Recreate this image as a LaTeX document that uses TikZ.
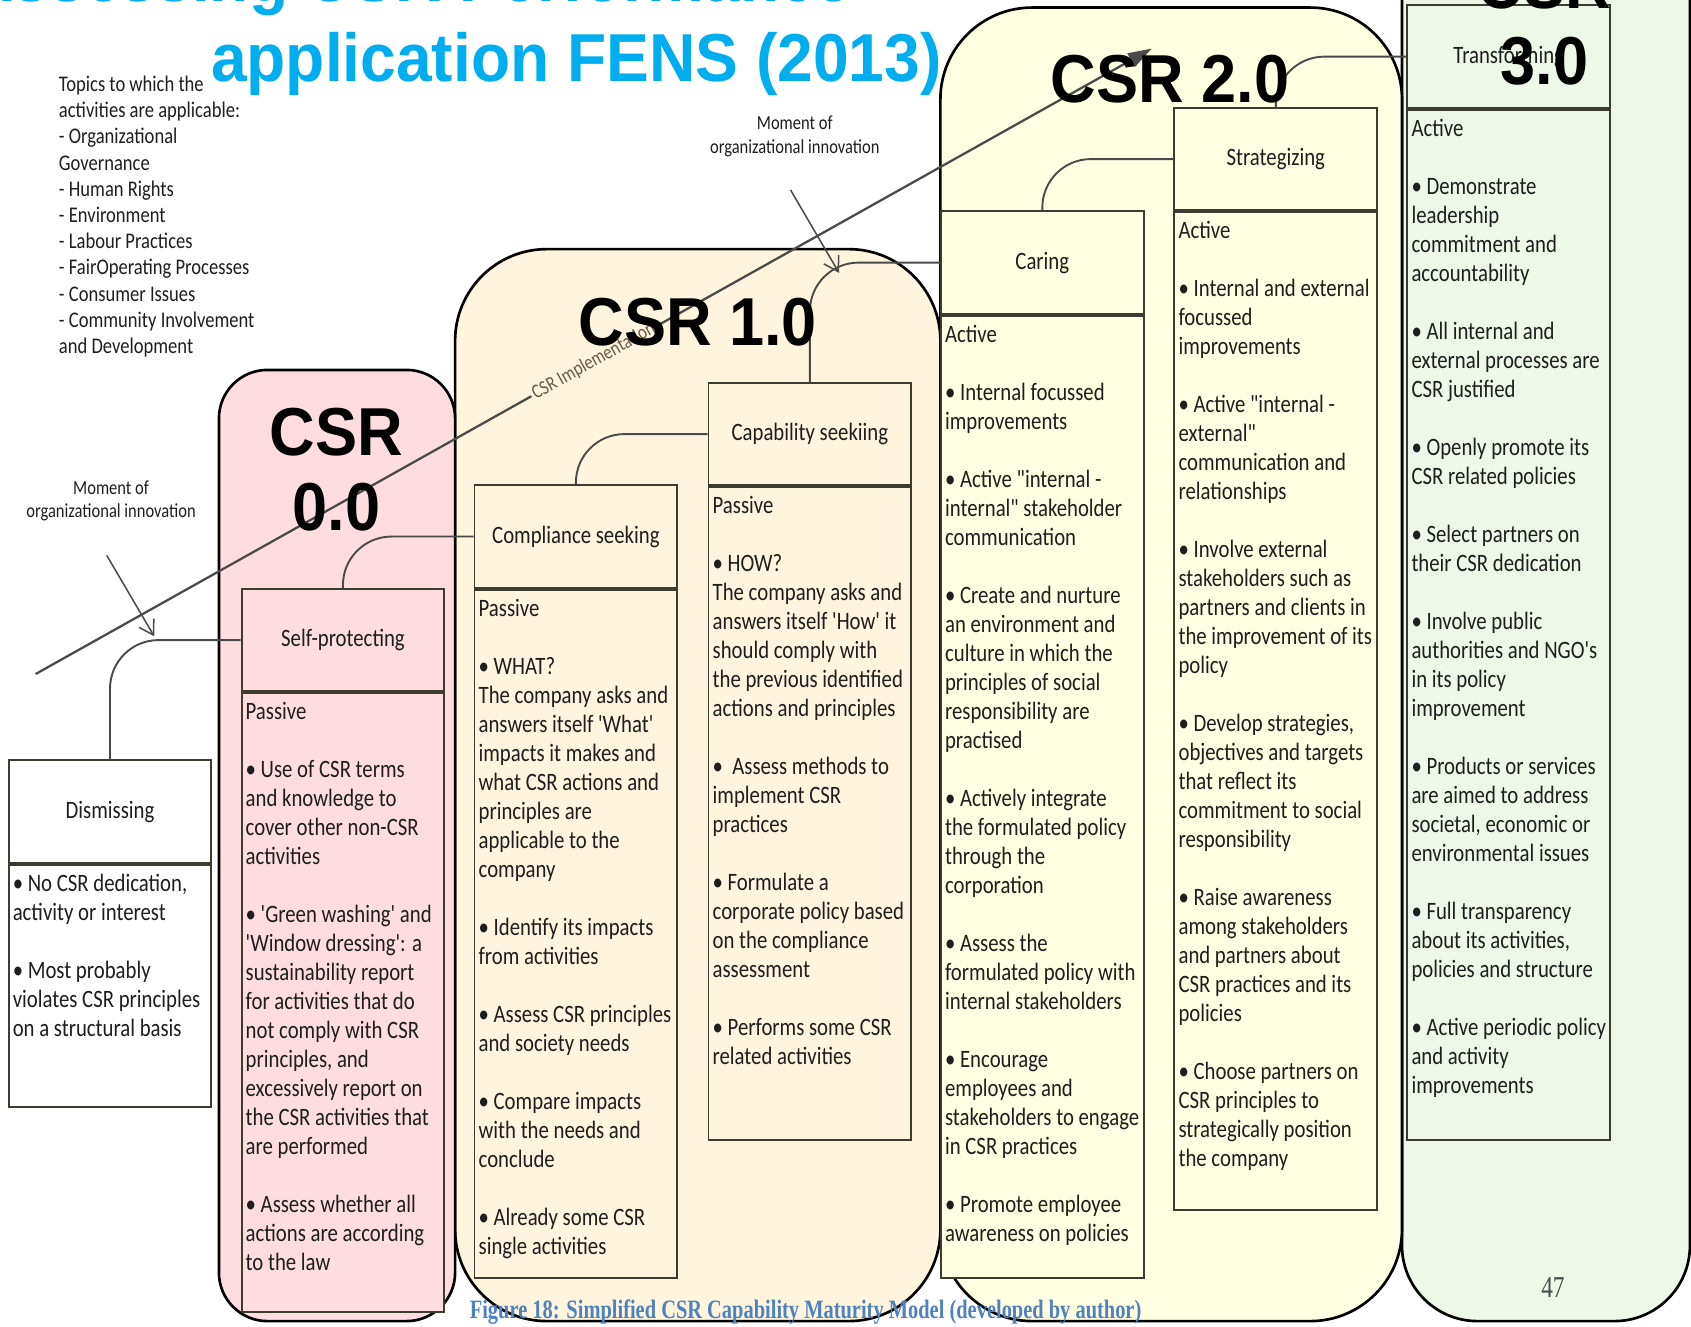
\documentclass[tikz,border=0pt]{standalone}
\usepackage{fontspec}
\setmainfont{Carlito}
\newfontfamily\boxfont[FakeStretch=0.83,Ligatures=TeXOff]{Carlito}
\newfontfamily\bigfont[FakeStretch=0.93]{Liberation Sans}
\newfontfamily\titfont[FakeStretch=0.945]{Liberation Sans}
\newfontfamily\capfont[FakeStretch=0.77]{Liberation Serif}
\usetikzlibrary{arrows.meta,positioning}
\definecolor{rosa}{HTML}{FFDCDF}
\definecolor{creme}{HTML}{FFF5DE}
\definecolor{gelb}{HTML}{FFFFE1}
\definecolor{gruen}{HTML}{EEF8E8}
\definecolor{titel}{HTML}{00AEEF}
\definecolor{capblau}{HTML}{4F81BD}
\definecolor{rahmen}{HTML}{3C3C30}
\definecolor{grau}{HTML}{4A4A4A}
\definecolor{schrift}{HTML}{1E1E1E}
\definecolor{braun}{HTML}{6B5A45}
\newcommand{\lz}{\\[7.65pt]}
\tikzset{
  stufe/.style={draw=black,line width=0.7pt},
  kopf/.style={draw=rahmen,line width=0.5pt,minimum width=18.8mm,minimum height=9.5mm,inner sep=0pt,text=schrift,font=\boxfont\fontsize{6.6}{7.65}\selectfont},
  rumpf/.style={draw=rahmen,line width=0.5pt,minimum width=18.8mm,inner sep=0pt},
  txt/.style={anchor=north west,inner sep=0pt,align=left,text=schrift,font=\boxfont\fontsize{6.6}{7.65}\selectfont},
  verb/.style={grau,line width=0.5pt,rounded corners=4.5mm},
  pfeil/.style={-{Straight Barb[length=1.3mm,width=1.6mm]},grau,line width=0.4pt},
  impl/.style={-{Triangle[length=2.2mm,width=1.4mm]},grau,line width=0.6pt},
  gross/.style={font=\bigfont\bfseries\fontsize{17.9}{19.9}\selectfont,inner sep=0pt,align=center},
  titelschrift/.style={font=\titfont\bfseries\fontsize{17.9}{20}\selectfont,text=titel,inner sep=0pt},
  klein/.style={inner sep=0pt,text=schrift,align=center,font=\boxfont\fontsize{5.25}{6.2}\selectfont},
}

\begin{document}
\begin{tikzpicture}[x=0.1mm,y=-0.1mm]
  \useasboundingbox (0,0) rectangle (1568,1230);
  % stages
  \draw[stufe,fill=gruen,rounded corners=7mm] (1300,-150) rectangle (1567,1225);
  \draw[stufe,fill=gelb,rounded corners=8.5mm] (872,7) rectangle (1300,1225);
  \draw[stufe,fill=creme,rounded corners=8.5mm] (422,231) rectangle (872,1225);
  \draw[stufe,fill=rosa,rounded corners=4.5mm] (203,343) rectangle (422,1225);

  \node[font=\capfont\bfseries\fontsize{7}{8}\selectfont,text=capblau,anchor=base,inner sep=0pt] (caption) at (747,1223) {Figure 18: Simplified CSR Capability Maturity Model (developed by author)};
  \node[font=\capfont\fontsize{8}{9}\selectfont,text=schrift!80,inner sep=0pt] (seite) at (1440,1194) {47};

  % topics
  \node[txt,font=\boxfont\fontsize{5.9}{6.92}\selectfont] (themen) at (54,67) {\strut Topics to which the\\
    activities are applicable:\\
    - Organizational\\
    Governance\\
    - Human Rights\\
    - Environment\\
    - Labour Practices\\
    - FairOperating Processes\\
    - Consumer Issues\\
    - Community Involvement\\
    and Development};

  \node[klein] (momentL) at (103,464.5) {Moment of\\organizational innovation};
  \node[klein] (momentR) at (737,126.5) {Moment of\\organizational innovation};
  \coordinate (mL0) at (99,515);
  \coordinate (mL1) at (143,590);
  \coordinate (mR0) at (733,176);
  \coordinate (mR1) at (778,253);
  \draw[pfeil] (mL0) -- (mL1);
  \draw[pfeil] (mR0) -- (mR1);

  % activities
  \node[kopf,fill=white] (dismiss) at (102,752.5) {Dismissing};
  \node[rumpf,fill=white,minimum height=22.5mm,below=0pt of dismiss] (dismissB) {};
  \node[txt] (dismissT) at ([shift={(0.4mm,-0.6mm)}]dismissB.north west) {\strut • No CSR dedication,\\
    activity or interest\lz
    • Most probably\\
    violates CSR principles\\
    on a structural basis};

  \node[kopf,fill=rosa] (selfprot) at (318,593.5) {Self-protecting};
  \node[rumpf,fill=rosa,minimum height=57.4mm,below=0pt of selfprot] (selfprotB) {};
  \node[txt] (selfprotT) at ([shift={(0.4mm,-0.6mm)}]selfprotB.north west) {\strut Passive\lz
    • Use of CSR terms\\
    and knowledge to\\
    cover other non-CSR\\
    activities\lz
    • 'Green washing' and\\
    'Window dressing': a\\
    sustainability report\\
    for activities that do\\
    not comply with CSR\\
    principles, and\\
    excessively report on\\
    the CSR activities that\\
    are performed\lz
    • Assess whether all\\
    actions are according\\
    to the law};

  \node[kopf,fill=creme] (comply) at (534,497.5) {Compliance seeking};
  \node[rumpf,fill=creme,minimum height=63.8mm,below=0pt of comply] (complyB) {};
  \node[txt] (complyT) at ([shift={(0.4mm,-0.6mm)}]complyB.north west) {\strut Passive\lz
    • WHAT?\\
    The company asks and\\
    answers itself 'What'\\
    impacts it makes and\\
    what CSR actions and\\
    principles are\\
    applicable to the\\
    company\lz
    • Identify its impacts\\
    from activities\lz
    • Assess CSR principles\\
    and society needs\lz
    • Compare impacts\\
    with the needs and\\
    conclude\lz
    • Already some CSR\\
    single activities};

  \node[kopf,fill=creme] (capab) at (751,402.5) {Capability seekiing};
  \node[rumpf,fill=creme,minimum height=60.5mm,below=0pt of capab] (capabB) {};
  \node[txt] (capabT) at ([shift={(0.4mm,-0.6mm)}]capabB.north west) {\strut Passive\lz
    • HOW?\\
    The company asks and\\
    answers itself 'How' it\\
    should comply with\\
    the previous identified\\
    actions and principles\lz
    •\ \ Assess methods to\\
    implement CSR\\
    practices\lz
    • Formulate a\\
    corporate policy based\\
    on the compliance\\
    assessment\lz
    • Performs some CSR\\
    related activities};

  \node[kopf,fill=gelb] (caring) at (966.5,243.5) {Caring};
  \node[rumpf,fill=gelb,minimum height=89.2mm,below=0pt of caring] (caringB) {};
  \node[txt] (caringT) at ([shift={(0.4mm,-0.6mm)}]caringB.north west) {\strut Active\lz
    • Internal focussed\\
    improvements\lz
    • Active "internal -\\
    internal" stakeholder\\
    communication\lz
    • Create and nurture\\
    an environment and\\
    culture in which the\\
    principles of social\\
    responsibility are\\
    practised\lz
    • Actively integrate\\
    the formulated policy\\
    through the\\
    corporation\lz
    • Assess the\\
    formulated policy with\\
    internal stakeholders\lz
    • Encourage\\
    employees and\\
    stakeholders to engage\\
    in CSR practices\lz
    • Promote employee\\
    awareness on policies};

  \node[kopf,fill=gelb] (strat) at (1183,147.5) {Strategizing};
  \node[rumpf,fill=gelb,minimum height=92.5mm,below=0pt of strat] (stratB) {};
  \node[txt] (stratT) at ([shift={(0.4mm,-0.6mm)}]stratB.north west) {\strut Active\lz
    • Internal and external\\
    focussed\\
    improvements\lz
    • Active "internal -\\
    external"\\
    communication and\\
    relationships\lz
    • Involve external\\
    stakeholders such as\\
    partners and clients in\\
    the improvement of its\\
    policy\lz
    • Develop strategies,\\
    objectives and targets\\
    that reflect its\\
    commitment to social\\
    responsibility\lz
    • Raise awareness\\
    among stakeholders\\
    and partners about\\
    CSR practices and its\\
    policies\lz
    • Choose partners on\\
    CSR principles to\\
    strategically position\\
    the company};

  \node[kopf,fill=gruen] (transf) at (1399,52.5) {Transforming};
  \node[rumpf,fill=gruen,minimum height=95.5mm,below=0pt of transf] (transfB) {};
  \node[txt] (transfT) at ([shift={(0.4mm,-0.6mm)}]transfB.north west) {\strut Active\lz
    • Demonstrate\\
    leadership\\
    commitment and\\
    accountability\lz
    • All internal and\\
    external processes are\\
    CSR justified\lz
    • Openly promote its\\
    CSR related policies\lz
    • Select partners on\\
    their CSR dedication\lz
    • Involve public\\
    authorities and NGO's\\
    in its policy\\
    improvement\lz
    • Products or services\\
    are aimed to address\\
    societal, economic or\\
    environmental issues\lz
    • Full transparency\\
    about its activities,\\
    policies and structure\lz
    • Active periodic policy\\
    and activity\\
    improvements};

  % steps between activities
  \draw[verb] (dismiss.north) |- (selfprot.west);
  \draw[verb] (selfprot.north) |- (comply.west);
  \draw[verb] (comply.north) |- (capab.west);
  \draw[verb] (capab.north) |- (caring.west);
  \draw[verb] (caring.north) |- (strat.west);
  \draw[verb] (strat.north) |- (transf.west);

  % implementation line
  \coordinate (impl0) at (33,625);
  \coordinate (impl1) at (1068,45);
  \draw[impl] (impl0) -- node[sloped,pos=0.5,fill=creme,inner sep=0.6pt,text=braun,font=\boxfont\fontsize{5.3}{6}\selectfont] (impltxt) {CSR Implementation} (impl1);

  % title and stage labels
  \node[titelschrift,anchor=base east] (titelA) at (790,1) {Assessing CSR Performance};
  \node[titelschrift,anchor=base west] (titelB) at (195,76) {application FENS (2013)};
  \node[gross] (csr0) at (312,435.5) {CSR\\0.0};
  \node[gross,anchor=base] (csr1) at (647,320) {CSR 1.0};
  \node[gross,anchor=base] (csr2) at (1085,95) {CSR 2.0};
  \node[gross] (csr3) at (1432,21.5) {CSR\\3.0};
\end{tikzpicture}
\end{document}
